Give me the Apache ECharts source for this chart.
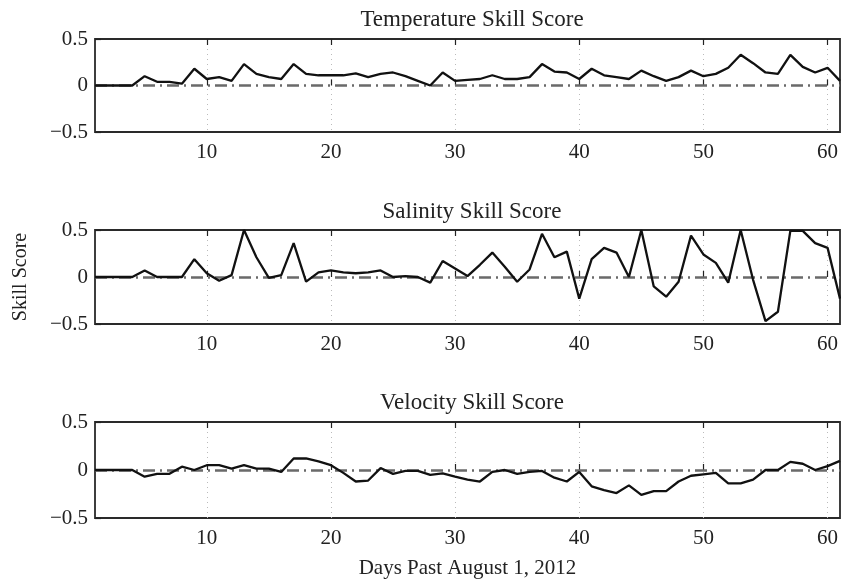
<!DOCTYPE html>
<html>
<head>
<meta charset="utf-8">
<script src="https://cdn.jsdelivr.net/npm/echarts@6/dist/echarts.min.js"></script>
<style>html,body{margin:0;padding:0;background:#fff}#c{width:844px;height:582px}</style>
</head>
<body>
<div id="c"></div>
<script>
const days = [1,2,3,4,5,6,7,8,9,10,11,12,13,14,15,16,17,18,19,20,21,22,23,24,25,26,27,28,29,30,31,32,33,34,35,36,37,38,39,40,41,42,43,44,45,46,47,48,49,50,51,52,53,54,55,56,57,58,59,60,61];
const temperature = [0,0,0,0,0.1,0.04,0.04,0.02,0.18,0.07,0.09,0.05,0.23,0.125,0.09,0.07,0.23,0.125,0.11,0.11,0.11,0.13,0.09,0.125,0.14,0.1,0.05,0,0.14,0.05,0.06,0.07,0.11,0.07,0.07,0.09,0.23,0.15,0.14,0.07,0.18,0.11,0.09,0.07,0.16,0.1,0.05,0.09,0.16,0.1,0.125,0.19,0.33,0.24,0.14,0.125,0.33,0.2,0.14,0.19,0.05];
const salinity = [0,0,0,0,0.07,0,0,0,0.19,0.04,-0.04,0.02,0.5,0.21,-0.01,0.02,0.36,-0.05,0.05,0.07,0.05,0.04,0.05,0.07,0,0.01,0,-0.06,0.17,0.09,0.01,0.13,0.26,0.11,-0.05,0.08,0.46,0.21,0.27,-0.23,0.19,0.31,0.26,0,0.5,-0.1,-0.21,-0.05,0.44,0.24,0.15,-0.06,0.5,-0.03,-0.47,-0.37,0.49,0.49,0.36,0.31,-0.23];
const velocity = [0,0,0,0,-0.07,-0.04,-0.04,0.035,0,0.05,0.05,0.015,0.05,0.015,0.015,-0.02,0.12,0.12,0.09,0.05,-0.03,-0.12,-0.11,0.02,-0.04,-0.01,-0.01,-0.05,-0.035,-0.07,-0.1,-0.12,-0.02,0,-0.04,-0.02,-0.01,-0.08,-0.12,-0.02,-0.17,-0.21,-0.24,-0.16,-0.26,-0.22,-0.22,-0.12,-0.06,-0.045,-0.03,-0.14,-0.14,-0.1,0,0,0.085,0.065,0,0.04,0.095];
const xTicks = [10,20,30,40,50,60];
const yTicks = [-0.5,0,0.5];
const titles = ['Temperature Skill Score','Salinity Skill Score','Velocity Skill Score'];
const yName = 'Skill Score';
const xName = 'Days Past August 1, 2012';

const FONT = '"Liberation Serif", "Times New Roman", serif';
const chart = echarts.init(document.getElementById('c'));
const grids = [
  {left:95, top:39, width:745, height:93},
  {left:95, top:230, width:745, height:94},
  {left:95, top:422, width:745, height:96}
];
const titleTops = [3, 195, 386];
const seriesData = [temperature, salinity, velocity];
const yFmt = v => v === 0 ? '0' : (v < 0 ? '\u2212' + Math.abs(v) : String(v));

const xAxes = [], yAxes = [], series = [];
grids.forEach((g, i) => {
  xAxes.push({
    type:'value', gridIndex:i, min:1, max:61, position:'bottom',
    axisLine:{show:false},
    axisTick:{show:true, inside:true, length:6, customValues:xTicks, lineStyle:{color:'#222', width:1.2}},
    axisLabel:{show:true, customValues:xTicks, color:'#222', fontFamily:FONT, fontSize:21, margin:10},
    splitLine:{show:true, lineStyle:{color:'#bbb', type:[1,4], width:1}},
    name: i === 2 ? xName : '', nameLocation:'middle', nameGap:40,
    nameTextStyle:{color:'#222', fontFamily:FONT, fontSize:21}
  });
  xAxes.push({
    type:'value', gridIndex:i, min:1, max:61, position:'top',
    axisLine:{show:false},
    axisTick:{show:true, inside:true, length:6, customValues:xTicks, lineStyle:{color:'#222', width:1.2}},
    axisLabel:{show:false}, splitLine:{show:false}
  });
  yAxes.push({
    type:'value', gridIndex:i, min:-0.5, max:0.5, interval:0.5,
    axisLine:{show:false},
    axisTick:{show:true, inside:true, length:6, lineStyle:{color:'#222', width:1.2}},
    axisLabel:{color:'#222', fontFamily:FONT, fontSize:21, margin:7, formatter:yFmt},
    splitLine:{show:false},
    name: i === 1 ? yName : '', nameLocation:'middle', nameGap:64, nameRotate:90,
    nameTextStyle:{color:'#222', fontFamily:FONT, fontSize:20}
  });
  series.push({
    type:'line', xAxisIndex:i*2, yAxisIndex:i, showSymbol:false, symbol:'none',
    data: days.map((d, k) => [d, seriesData[i][k]]),
    lineStyle:{color:'#111', width:2.3}, z:5,
    markLine:{
      silent:true, symbol:'none', label:{show:false},
      lineStyle:{color:'#6a6a6a', width:2.5, type:[12,5,2,5]},
      data:[{yAxis:0}]
    }
  });
});

chart.setOption({
  animation:false,
  backgroundColor:'#fff',
  title: titles.map((t, i) => ({
    text:t, left:467, top:titleTops[i], textAlign:'center',
    textStyle:{color:'#222', fontFamily:FONT, fontSize:23, fontWeight:'normal'}
  })),
  grid: grids.map(g => Object.assign({show:true, borderColor:'#2a2a2a', borderWidth:1.8, backgroundColor:'#fff'}, g)),
  xAxis: xAxes,
  yAxis: yAxes,
  series: series
});
</script>
</body>
</html>
